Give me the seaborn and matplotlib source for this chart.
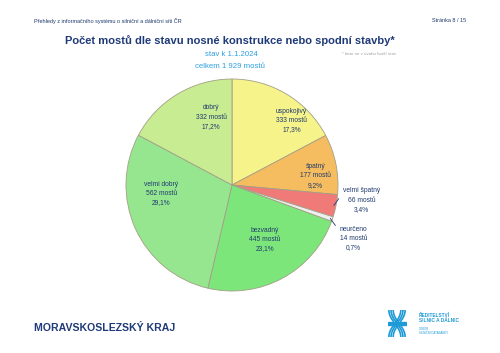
import numpy as np
import matplotlib.pyplot as plt
import seaborn as sns

# data (clockwise from 12 o'clock)
categories = ['uspokojivý', 'špatný', 'velmi špatný', 'neurčeno', 'bezvadný', 'velmi dobrý', 'dobrý']
counts = [333, 177, 66, 14, 445, 562, 332]
shares = ['17,3%', '9,2%', '3,4%', '0,7%', '23,1%', '29,1%', '17,2%']
colors = ['#f5f38a', '#f5bd60', '#f07a78', '#eeeeee', '#7de67a', '#96e690', '#c8ec92']

# label placement: distance from centre and angle shift from the wedge middle
label_dist = [0.83, 0.79, 1.23, 1.25, 0.60, 0.67, 0.67]
label_shift = [-11.6, -5.1, 4.7, -4.9, 2.6, -17.4, -14.0]

navy = '#1f3a6e'
lightblue = '#2b9fe0'

sns.set_theme(style='white')
plt.rcParams['font.family'] = ['Liberation Sans', 'DejaVu Sans']

fig = plt.figure(figsize=(5, 3.53), dpi=100)
ax = fig.add_axes([0.252, 0.1756, 0.424, 0.6006])
wedges, _ = ax.pie(counts, colors=colors, startangle=90, counterclock=False,
                   wedgeprops=dict(edgecolor='#a39f86', linewidth=0.6))
ax.set_xlim(-1, 1)
ax.set_ylim(-1, 1)

for w, cat, n, s, d, sh in zip(wedges, categories, counts, shares, label_dist, label_shift):
    mid = (w.theta1 + w.theta2) / 2
    ang = np.deg2rad(mid + sh)
    txt = f'{cat}\n{n} mostů\n{s}'
    if d < 1:
        ax.text(d * np.cos(ang), d * np.sin(ang), txt, ha='center', va='center',
                fontsize=4.8, color=navy, linespacing=1.45)
    else:
        m = np.deg2rad(mid)
        ax.annotate(txt, xy=(0.98 * np.cos(m), 0.98 * np.sin(m)),
                    xytext=(d * np.cos(ang), d * np.sin(ang)),
                    ha='center', va='center', fontsize=4.8, color=navy, linespacing=1.45,
                    annotation_clip=False,
                    arrowprops=dict(arrowstyle='-', color=navy, lw=0.6,
                                    shrinkA=1, shrinkB=0, relpos=(0, 0.78)))

# page header / titles
fig.text(34 / 500, 1 - 21 / 353, 'Přehledy z informačního systému o silniční a dálniční síti ČR',
         fontsize=4, color=navy, va='center')
fig.text(466 / 500, 1 - 21 / 353, 'Stránka 8 / 15', fontsize=4, color=navy, va='center', ha='right')
fig.text(230 / 500, 1 - 41 / 353, 'Počet mostů dle stavu nosné konstrukce nebo spodní stavby*',
         fontsize=8.0, weight='bold', color='#1f3a78', ha='center', va='center')
fig.text(231 / 500, 1 - 54 / 353, 'stav k 1.1.2024', fontsize=5.6, color=lightblue,
         ha='center', va='center')
fig.text(230 / 500, 1 - 66 / 353, 'celkem 1 929 mostů', fontsize=5.6, color=lightblue,
         ha='center', va='center')
fig.text(396 / 500, 1 - 54 / 353, '* bere se v úvahu horší stav', fontsize=3.2, color='#a0a0a0',
         ha='right', va='center')

# footer
fig.text(34 / 500, 1 - 328 / 353, 'MORAVSKOSLEZSKÝ KRAJ', fontsize=7.6, weight='bold',
         color='#1f3a78', va='center')

# logo
lax = fig.add_axes([388 / 500, 1 - 337 / 353, 18 / 500, 27 / 353])
lax.set_xlim(0, 1)
lax.set_ylim(0, 1)
lax.axis('off')
t = np.linspace(0, 1, 50)
for off in [0.0, 0.12, 0.24]:
    lax.plot(0.05 + off + 0.25 * t ** 2, 1 - 0.42 * t, color='#1e9ad6', lw=1.2)
    lax.plot(0.95 - off - 0.25 * t ** 2, 1 - 0.42 * t, color='#1e9ad6', lw=1.2)
    lax.plot(0.05 + off + 0.25 * t ** 2, 0.42 * t, color='#1e9ad6', lw=1.2)
    lax.plot(0.95 - off - 0.25 * t ** 2, 0.42 * t, color='#1e9ad6', lw=1.2)
lax.fill_between([0, 1], 0.44, 0.56, color='#1e9ad6')
fig.text(419 / 500, 1 - 318 / 353, 'ŘEDITELSTVÍ\nSILNIC A DÁLNIC', fontsize=3.4, weight='bold',
         color='#1e9ad6', va='center', linespacing=1.1)
fig.text(419 / 500, 1 - 331 / 353, 'ODBOR\nSILNIČNÍ DATABANKY', fontsize=2.0,
         color='#1e9ad6', va='center', linespacing=1.1)

fig.savefig('out.png', dpi=100)
